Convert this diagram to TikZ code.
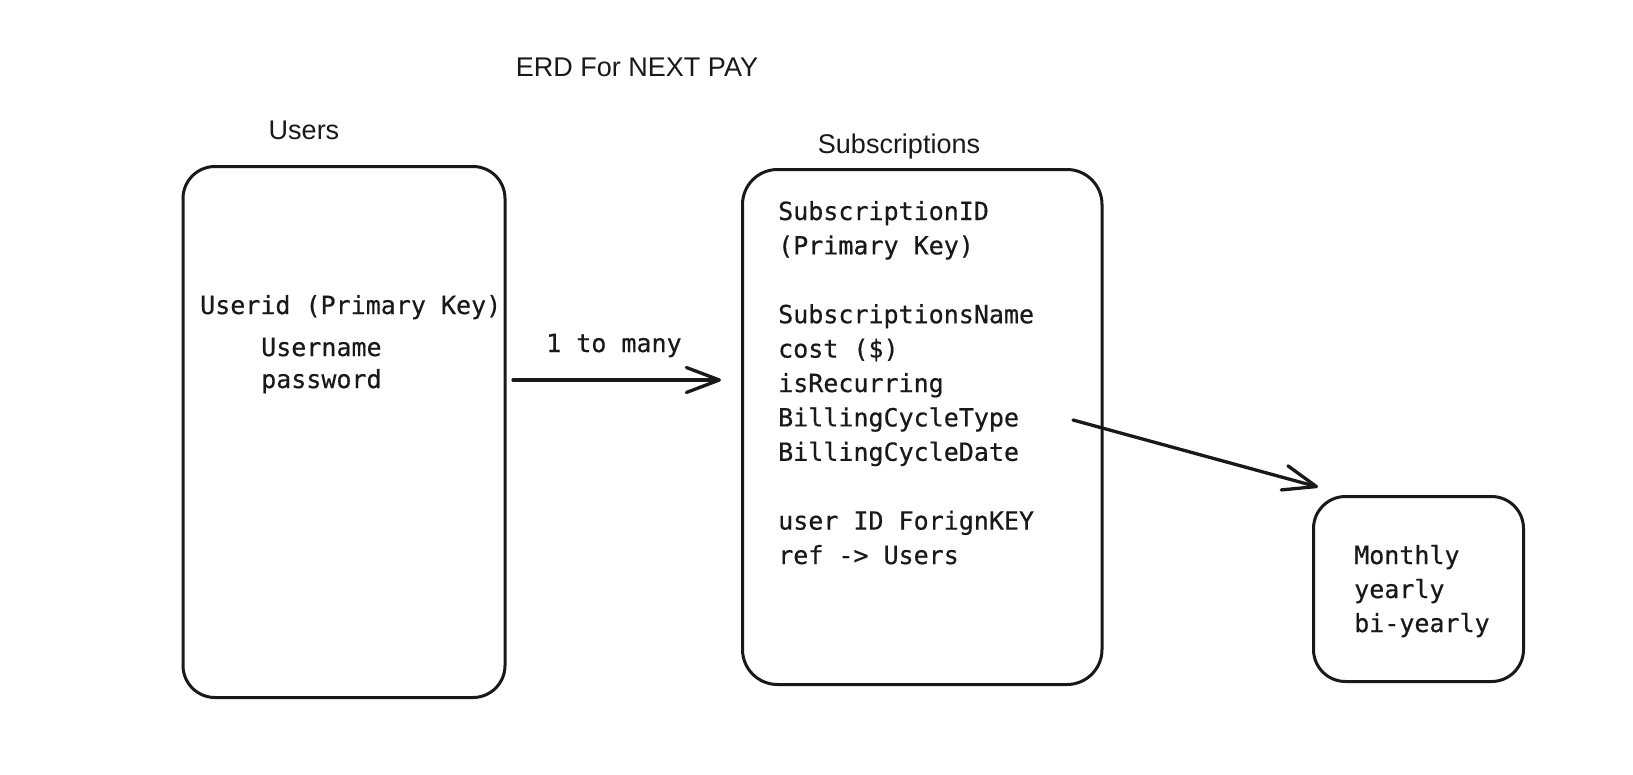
\documentclass[tikz,border=0pt]{standalone}
\usepackage{fontspec}
\setmonofont{DejaVu Sans Mono}[FakeBold=0.5]
\newfontfamily\handfont{Liberation Sans}
\usetikzlibrary{arrows.meta}
\begin{document}
\begin{tikzpicture}[x=1pt,y=-1pt,
  box/.style={draw=black!90, line width=3pt, rounded corners=32pt, inner sep=0pt},
  mono/.style={font=\fontsize{25}{30}\selectfont\ttfamily, anchor=base west, inner sep=0pt, text=black!90},
  hand/.style={font=\fontsize{27}{32}\selectfont\handfont, anchor=base, inner sep=0pt, text=black!90},
  conn/.style={draw=black!90, line width=3.3pt, line cap=round,
    -{Straight Barb[length=33pt,width=25pt,line cap=round,line join=round]}}]
\fill[white] (0,0) rectangle (1633,774);
\useasboundingbox (0,0) rectangle (1633,774);

% title and table labels
\node[hand] (title) at (637,76) {ERD For NEXT PAY};
\node[hand] (userslabel) at (304,139) {Users};
\node[hand] (subslabel) at (899,153) {Subscriptions};

% boxes
\node[box, anchor=north west, minimum width=322pt, minimum height=531pt] (users) at (181.5,165) {};
\node[box, anchor=north west, minimum width=359.5pt, minimum height=515pt, rounded corners=35pt] (subs) at (741,168) {};
\node[box, anchor=north west, minimum width=210pt, minimum height=185pt] (cycle) at (1312,495) {};

% Users fields
\node[mono] (u1) at (200,314) {Userid (Primary Key)};
\node[mono] (u2) at (261,356) {Username};
\node[mono] (u3) at (261,388) {password};

% Subscriptions fields
\node[mono] (s1) at (778,220) {SubscriptionID};
\node[mono] (s2) at (778,254.4) {(Primary Key)};
\node[mono] (s3) at (778,323.2) {SubscriptionsName};
\node[mono] (s4) at (778,357.6) {cost (\$)};
\node[mono] (s5) at (778,392) {isRecurring};
\node[mono] (s6) at (778,426.4) {BillingCycleType};
\node[mono] (s7) at (778,460.8) {BillingCycleDate};
\node[mono] (s8) at (778,529.6) {user ID ForignKEY};
\node[mono] (s9) at (778,564) {ref -> Users};

% billing cycle values
\node[mono] (c1) at (1354,564) {Monthly};
\node[mono] (c2) at (1354,598) {yearly};
\node[mono] (c3) at (1354,632) {bi-yearly};

% relationship label
\node[mono] (rel) at (546,352) {1 to many};

% connectors
\coordinate (a1s) at (513,380);
\coordinate (a1e) at (721,380);
\coordinate (a2s) at (1073,420);
\coordinate (a2e) at (1318,487);
\draw[conn] (a1s) -- (a1e);
\draw[conn] (a2s) -- (a2e);
\end{tikzpicture}
\end{document}
